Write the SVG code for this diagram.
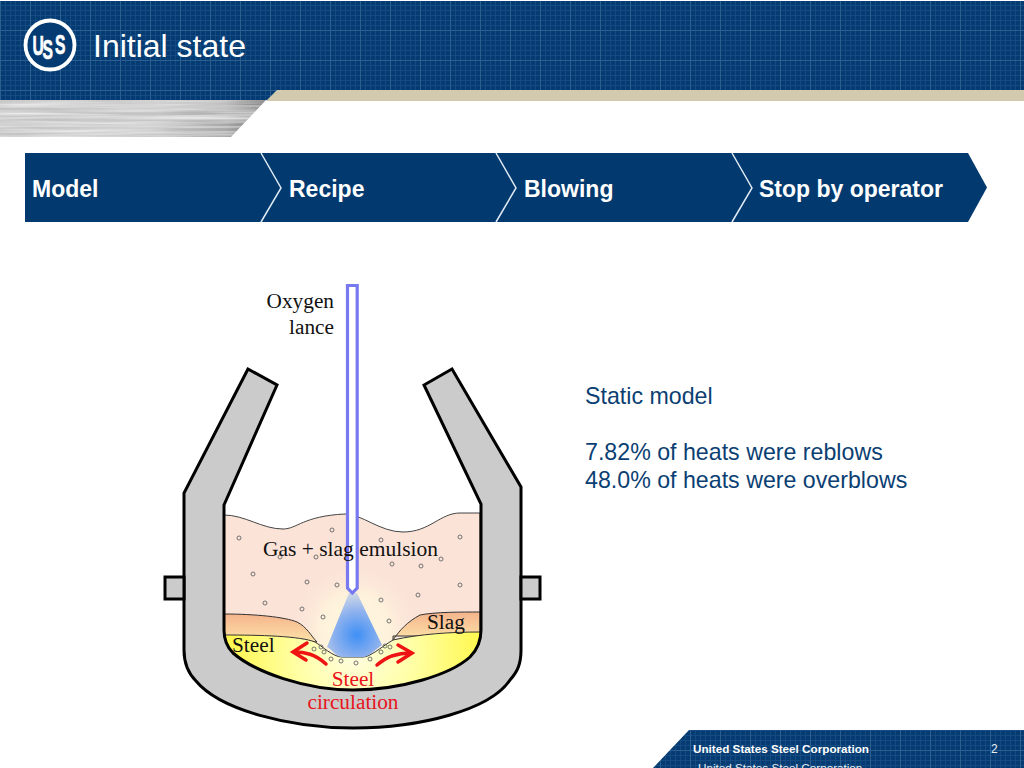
<svg xmlns="http://www.w3.org/2000/svg" width="1024" height="768" viewBox="0 0 1024 768">
<style>
.s{font-family:"Liberation Sans",Arial,sans-serif}
.t{font-family:"Liberation Serif","Times New Roman",serif;font-size:21.300px;fill:#111}
.r{fill:#e8141c}
.step{font-family:"Liberation Sans",Arial,sans-serif;font-size:23px;font-weight:700;fill:#fff}
.body{font-family:"Liberation Sans",Arial,sans-serif;font-size:23.200px;fill:#0b3f73}
.sep{fill:none;stroke:#dfeaf3;stroke-width:1.5}
.b{fill:none;stroke:#666;stroke-width:.9}
.arr{fill:none;stroke:#ee1414;stroke-width:3.500;stroke-linecap:round;stroke-linejoin:miter}
</style>
<defs>
<pattern id="grid" width="5" height="5" patternUnits="userSpaceOnUse">
<rect width="5" height="5" fill="#033b72"/>
<path d="M0 .5H5M.5 0V5" stroke="#3f6f9f" stroke-width="1" opacity=".3"/>
</pattern>
<pattern id="grid2" width="30" height="30" patternUnits="userSpaceOnUse">
<path d="M0 .5H30M.5 0V30" stroke="#7fa3c4" stroke-width="1" opacity=".22"/>
</pattern>
<filter id="brush" x="0" y="0" width="100%" height="100%">
<feTurbulence type="fractalNoise" baseFrequency="0.006 0.25" numOctaves="3" seed="4"/>
<feColorMatrix values="0 0 0 0 1  0 0 0 0 1  0 0 0 0 1  1.400 0 0 0 -.5"/>
<feComposite in2="SourceGraphic" operator="in"/>
<feMerge><feMergeNode in="SourceGraphic"/><feMergeNode/></feMerge>
</filter>
<linearGradient id="silver" x1="0" x2="1" y1="0" y2="0">
<stop offset="0" stop-color="#c4c4c4"/><stop offset=".6" stop-color="#c4c4c4"/><stop offset=".85" stop-color="#a8a8a8"/><stop offset="1" stop-color="#6e6e6e"/>
</linearGradient>
<radialGradient id="glow" gradientUnits="userSpaceOnUse" cx="355" cy="628" r="64">
<stop offset="0" stop-color="#fff8dc"/><stop offset=".55" stop-color="#fff5dc" stop-opacity=".8"/><stop offset="1" stop-color="#fbe3d8" stop-opacity="0"/>
</radialGradient>
<linearGradient id="slagG" x1="0" x2="0" y1="0" y2="1">
<stop offset="0" stop-color="#f5b48c"/><stop offset="1" stop-color="#fde2a8"/>
</linearGradient>
<radialGradient id="steelG" gradientUnits="userSpaceOnUse" cx="355" cy="655" r="125">
<stop offset="0" stop-color="#fffde0"/><stop offset=".45" stop-color="#ffffa8"/><stop offset="1" stop-color="#fff850"/>
</radialGradient>
<radialGradient id="jet" gradientUnits="userSpaceOnUse" cx="357" cy="635" r="48">
<stop offset="0" stop-color="#3f8ff5"/><stop offset=".5" stop-color="#8fb2ee"/><stop offset="1" stop-color="#e6e6e2"/>
</radialGradient>
</defs>

<g id="header">
<rect x="0" y="1" width="1024" height="99" fill="url(#grid)"/>
<rect x="0" y="1" width="1024" height="99" fill="url(#grid2)"/>
<polygon points="277,90 1024,90 1024,101 266,101" fill="#d2c9ae"/>
<polygon points="0,100 266,100 231,137 0,137" fill="url(#silver)" filter="url(#brush)"/>
<g id="logo">
<circle cx="50" cy="45" r="24.500" fill="#033b72" stroke="#fff" stroke-width="3.800"/>
<g class="s" font-weight="700" font-size="28" fill="#fff" stroke="#fff" stroke-width=".7">
<text transform="translate(32.500,55) scale(.56,1)">U</text>
<text transform="translate(42.500,59) scale(.56,1)">S</text>
<text transform="translate(55,54) scale(.56,1)">S</text>
</g>
</g>
<text class="s" x="93" y="57" font-size="32" fill="#fff">Initial state</text>
</g>

<g id="process-bar">
<polygon points="25,153 968,153 987,187.500 968,222 25,222" fill="#023a70"/>
<path class="sep" d="M261 153L281 188L261 222"/>
<path class="sep" d="M496 153L516 188L496 222"/>
<path class="sep" d="M732 153L752 188L732 222"/>
<g id="step-model"><text class="step" x="32" y="197">Model</text></g>
<g id="step-recipe"><text class="step" x="289" y="197">Recipe</text></g>
<g id="step-blowing"><text class="step" x="524" y="197">Blowing</text></g>
<g id="step-stop"><text class="step" x="759" y="197">Stop by operator</text></g>
</g>

<g id="converter">
<path d="M224 515C245 515 262 529 283 529C297 529 303 516 345 514C362 514 380 532 403 532C430 532 440 513 460 513H480V690H224Z" fill="#fbe3d8" stroke="#444" stroke-width="1"/>
<circle cx="355" cy="628" r="64" fill="url(#glow)"/>
<path d="M224 614C255 614 285 617 297 622C307 627 311 636 317 642L224 640Z" fill="url(#slagG)" stroke="#333" stroke-width="1"/>
<path d="M393 640C400 630 407 622 420 615C435 612 460 612 480 612V636H393Z" fill="url(#slagG)" stroke="#333" stroke-width="1"/>
<path d="M224 635C260 635 300 636 315 642C322 646 333 657 342 657H363C370 657 380 648 393 640C420 634 450 632 481 632V690H224Z" fill="url(#steelG)" stroke="#333" stroke-width="1"/>
<path d="M349 593H357L382 645C375 650 368 657 363 657H342C337 657 332 650 327 647Z" fill="url(#jet)"/>
<g id="bubbles">
<circle class="b" cx="239" cy="538" r="2"/><circle class="b" cx="332" cy="530" r="2"/><circle class="b" cx="381" cy="540" r="2"/><circle class="b" cx="460" cy="537" r="2"/><circle class="b" cx="280" cy="557" r="2"/><circle class="b" cx="316" cy="557" r="2"/><circle class="b" cx="392" cy="564" r="2"/><circle class="b" cx="421" cy="566" r="2"/><circle class="b" cx="441" cy="559" r="2"/><circle class="b" cx="253" cy="574" r="2"/><circle class="b" cx="307" cy="582" r="2"/><circle class="b" cx="337" cy="585" r="2"/><circle class="b" cx="460" cy="585" r="2"/><circle class="b" cx="418" cy="595" r="2"/><circle class="b" cx="381" cy="600" r="2"/><circle class="b" cx="265" cy="603" r="2"/><circle class="b" cx="302" cy="609" r="2"/><circle class="b" cx="323" cy="617" r="2"/><circle class="b" cx="389" cy="621" r="2"/><circle class="b" cx="314" cy="649" r="2"/><circle class="b" cx="321" cy="647" r="2"/><circle class="b" cx="324" cy="652" r="2"/><circle class="b" cx="331" cy="659" r="2"/><circle class="b" cx="341" cy="661" r="2"/><circle class="b" cx="356" cy="663" r="2"/><circle class="b" cx="370" cy="659" r="2"/><circle class="b" cx="381" cy="652" r="2"/><circle class="b" cx="385" cy="646" r="2"/><circle class="b" cx="390" cy="647" r="2"/>
</g>
<path id="vessel" d="M248 369L184 493V650C184 665 190 675 196 681C220 710 290 728 353 728C420 728 490 710 510 680C517 672 521 665 521 650V487L452 369L424 385L481 504V630C481 642 477 650 470 657C450 675 400 690 353 690C305 690 255 672 233 653C227 647 224 640 224 630V505L277 385Z" fill="#cbcbcb" stroke="#000" stroke-width="3" stroke-linejoin="miter"/>
<rect x="165" y="577" width="19" height="22" fill="#cbcbcb" stroke="#000" stroke-width="3"/>
<rect x="521" y="577" width="19" height="22" fill="#cbcbcb" stroke="#000" stroke-width="3"/>
<path id="lance" d="M347.500 285.500H357.200V588L352.300 593L347.500 588Z" fill="#fff" stroke="#7878f0" stroke-width="3.200"/>
<text class="t" x="263" y="556" textLength="175" lengthAdjust="spacingAndGlyphs" style="font-size:22px">Gas + slag emulsion</text>
<text class="t" x="334" y="308" text-anchor="end">Oxygen</text>
<text class="t" x="334" y="334" text-anchor="end">lance</text>
<text class="t" x="427" y="629">Slag</text>
<text class="t" x="232" y="652">Steel</text>
<text class="t r" x="353" y="686" text-anchor="middle">Steel</text>
<text class="t r" x="353" y="709" text-anchor="middle">circulation</text>
<g id="arrows">
<path class="arr" d="M326 664C315 654 305 652 294 652"/>
<path class="arr" d="M307 643L293 652L306 660"/>
<path class="arr" d="M377 665C388 655 400 653 411 653"/>
<path class="arr" d="M398 645L412 653L398 662"/>
</g>
</g>

<g id="notes">
<text class="body" x="585" y="404">Static model</text>
<text class="body" x="585" y="460">7.82% of heats were reblows</text>
<text class="body" x="585" y="488">48.0% of heats were overblows</text>
</g>

<g id="footer">
<polygon points="689,730 1024,730 1024,768 653,768" fill="url(#grid)"/>
<polygon points="689,730 1024,730 1024,768 653,768" fill="url(#grid2)"/>
<text class="s" x="693" y="753" font-size="11.700" font-weight="700" fill="#fff">United States Steel Corporation</text>
<text class="s" x="991" y="753" font-size="12" fill="#e8eef4">2</text>
<text class="s" x="698" y="771.500" font-size="11.700" fill="#e8eef4">United States Steel Corporation</text>
</g>
</svg>
